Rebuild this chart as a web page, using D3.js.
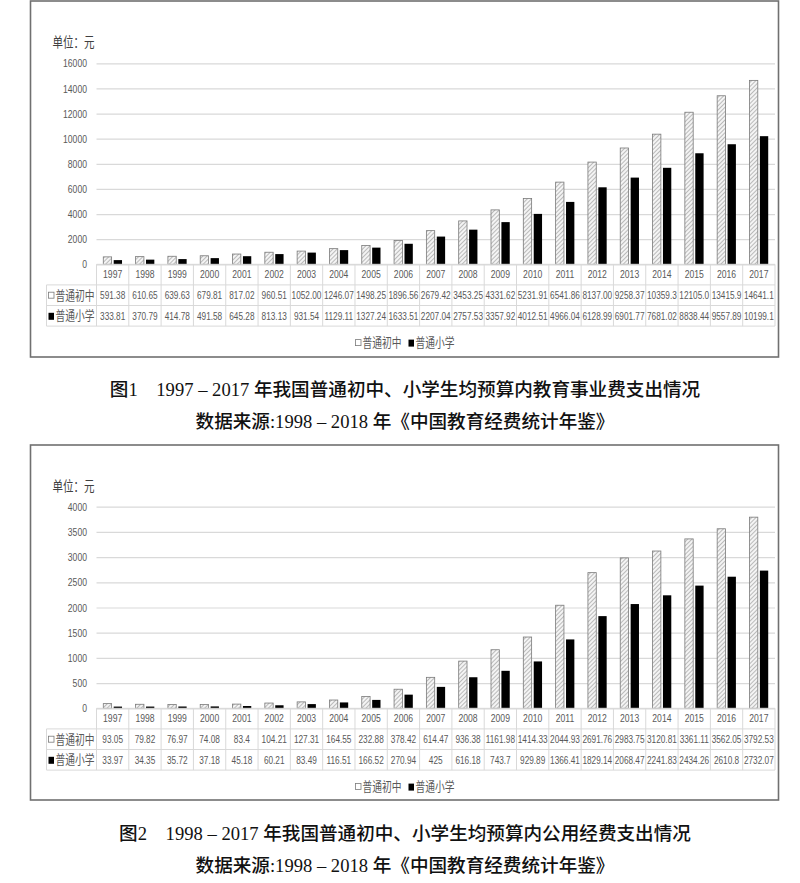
<!DOCTYPE html>
<html>
<head>
<meta charset="utf-8">
<script src="https://cdn.jsdelivr.net/npm/d3@7/dist/d3.min.js"></script>
<style>
  html, body { margin: 0; padding: 0; background: #fff; }
  svg { display: block; }
</style>
</head>
<body>
<svg id="root" width="800" height="883"></svg>
<script>
// ---------- data ----------
const years = ['1997','1998','1999','2000','2001','2002','2003','2004','2005','2006','2007',
               '2008','2009','2010','2011','2012','2013','2014','2015','2016','2017'];
const seriesNames = ['普通初中', '普通小学'];

const fig1Junior = [591.38, 610.65, 639.63, 679.81, 817.02, 960.51, 1052.00, 1246.07, 1498.25, 1896.56,
                    2679.42, 3453.25, 4331.62, 5231.91, 6541.86, 8137.00, 9258.37, 10359.3, 12105.0, 13415.9, 14641.1];
const fig1Primary = [333.81, 370.79, 414.78, 491.58, 645.28, 813.13, 931.54, 1129.11, 1327.24, 1633.51,
                     2207.04, 2757.53, 3357.92, 4012.51, 4966.04, 6128.99, 6901.77, 7681.02, 8838.44, 9557.89, 10199.1];
const fig1Ticks = [0, 2000, 4000, 6000, 8000, 10000, 12000, 14000, 16000];

const fig2Junior = [93.05, 79.82, 76.97, 74.08, 83.4, 104.21, 127.31, 164.55, 232.88, 378.42,
                    614.47, 936.38, 1161.98, 1414.33, 2044.93, 2691.76, 2983.75, 3120.81, 3361.11, 3562.05, 3792.53];
const fig2Primary = [33.97, 34.35, 35.72, 37.18, 45.18, 60.21, 83.49, 116.51, 166.52, 270.94,
                     425, 616.18, 743.7, 929.89, 1366.41, 1829.14, 2068.47, 2241.83, 2434.26, 2610.8, 2732.07];
const fig2Ticks = [0, 500, 1000, 1500, 2000, 2500, 3000, 3500, 4000];

const unitLabel = '单位：元';
const fig1Caption = '图1\u30001997 – 2017 年我国普通初中、小学生均预算内教育事业费支出情况';
const fig2Caption = '图2\u30001998 – 2017 年我国普通初中、小学生均预算内公用经费支出情况';
const sourceCaption = '数据来源:1998 – 2018 年《中国教育经费统计年鉴》';

// ---------- drawing ----------
const svg = d3.select('#root');
const SX = 0.75;               // horizontal compression of chart text
const TXT = '#595959';
const GRID = '#d9d9d9';
const FONT = '"Liberation Sans", "Noto Sans CJK SC", sans-serif';

const defs = svg.append('defs');
const pat = defs.append('pattern').attr('id', 'hatch')
  .attr('patternUnits', 'userSpaceOnUse').attr('width', 3).attr('height', 3)
  .attr('patternTransform', 'rotate(45)');
pat.append('rect').attr('width', 3).attr('height', 3).attr('fill', '#f4f4f4');
pat.append('line').attr('x1', 0).attr('y1', 0).attr('x2', 0).attr('y2', 3)
  .attr('stroke', '#8a8a8a').attr('stroke-width', 1.1);

function stext(g, x, y, str, size, anchor, color) {
  return g.append('text')
    .attr('transform', `translate(${x},${y}) scale(${SX},1)`)
    .attr('text-anchor', anchor || 'middle')
    .attr('dy', '0.35em')
    .attr('font-family', FONT)
    .attr('font-size', size)
    .attr('fill', color || TXT)
    .text(str);
}

function drawChart(cfg) {
  const g = svg.append('g');
  const x0 = 96.5, x1 = 775;
  const labelLeft = 46.5;
  const rowH = 20.6;

  // frame
  g.append('rect').attr('x', 30.5).attr('y', cfg.frameTop)
    .attr('width', 748).attr('height', cfg.frameH)
    .attr('fill', '#fff').attr('stroke', '#707070').attr('stroke-width', 1.6);

  const y = d3.scaleLinear().domain([0, cfg.max]).range([cfg.plotBottom, cfg.plotTop]);
  const xb = d3.scaleBand().domain(years).range([x0, x1]).paddingInner(0).paddingOuter(0);
  const bw = xb.bandwidth();
  const xs = d3.scaleBand().domain(seriesNames).range([bw * 0.21, bw * 0.79]).paddingInner(0.2);

  // grid + tick labels via axis
  const ax = g.append('g').attr('transform', `translate(${x0},0)`)
    .call(d3.axisLeft(y).tickValues(cfg.ticks).tickSize(-(x1 - x0)).tickPadding(12.7).tickFormat(d3.format('d')));
  ax.select('.domain').remove();
  ax.selectAll('.tick line').attr('stroke', GRID).attr('stroke-width', 1.2);
  ax.selectAll('.tick text')
    .attr('transform', `scale(${SX},1)`)
    .attr('font-family', FONT).attr('font-size', 11.5).attr('fill', TXT);

  // unit label
  stext(g, 52.5, cfg.plotTop - 21, unitLabel, 14, 'start', '#404040');

  // bars
  const series = [cfg.junior, cfg.primary];
  const fills = ['url(#hatch)', '#000'];
  const strokes = ['#7a7a7a', '#000'];
  series.forEach((vals, si) => {
    g.append('g').selectAll('rect').data(vals).join('rect')
      .attr('x', (d, i) => xb(years[i]) + xs(seriesNames[si]))
      .attr('width', xs.bandwidth())
      .attr('y', d => y(d))
      .attr('height', d => y(0) - y(d))
      .attr('fill', fills[si])
      .attr('stroke', strokes[si]).attr('stroke-width', si === 0 ? 0.8 : 0);
  });

  // data table
  const t0 = cfg.plotBottom;
  const tg = g.append('g');
  const line = (xa, ya, xc, yc) => tg.append('line').attr('x1', xa).attr('y1', ya).attr('x2', xc).attr('y2', yc)
    .attr('stroke', GRID).attr('stroke-width', 1);
  line(x0, t0, x1, t0);
  for (let r = 1; r <= 3; r++) line(labelLeft, t0 + r * rowH, x1, t0 + r * rowH);
  years.forEach(yr => line(xb(yr), t0, xb(yr), t0 + 3 * rowH));
  line(x1, t0, x1, t0 + 3 * rowH);
  line(labelLeft, t0 + rowH, labelLeft, t0 + 3 * rowH);

  years.forEach((yr, i) => {
    const cx = xb(yr) + bw / 2;
    stext(tg, cx, t0 + rowH * 0.5 - 0.5, yr, 11.5);
    stext(tg, cx, t0 + rowH * 1.5, cfg.fmt(cfg.junior[i]), 11);
    stext(tg, cx, t0 + rowH * 2.5, cfg.fmt(cfg.primary[i]), 11);
  });
  // row labels
  seriesNames.forEach((nm, si) => {
    const cy = t0 + rowH * (1.5 + si);
    tg.append('rect').attr('x', 48.5).attr('y', cy - 3).attr('width', 5.5).attr('height', si === 0 ? 6 : 7)
      .attr('fill', si === 0 ? '#fff' : '#000').attr('stroke', si === 0 ? '#7a7a7a' : 'none').attr('stroke-width', 0.8);
    stext(tg, 55.5, cy, nm, 13, 'start');
  });

  // legend
  const ly = t0 + 3 * rowH + 16.5;
  const lg = g.append('g');
  const legendX = [355.5, 408.5];
  seriesNames.forEach((nm, si) => {
    lg.append('rect').attr('x', legendX[si]).attr('y', ly - 3).attr('width', 5.5).attr('height', si === 0 ? 6 : 7)
      .attr('fill', si === 0 ? '#fff' : '#000').attr('stroke', si === 0 ? '#7a7a7a' : 'none').attr('stroke-width', 0.8);
    stext(lg, legendX[si] + 7, ly, nm, 13, 'start');
  });

  // captions
  const cg = g.append('g');
  [cfg.caption, sourceCaption].forEach((c, k) => {
    cg.append('text').attr('x', 405).attr('y', cfg.capY + k * 32.5)
      .attr('text-anchor', 'middle').attr('dy', '0.35em')
      .attr('font-family', '"Liberation Serif", "Noto Sans CJK SC", serif')
      .attr('font-size', 18.6).attr('font-weight', 500).attr('fill', '#111')
      .text(c);
  });
}

drawChart({
  frameTop: 1, frameH: 356,
  plotTop: 63.3, plotBottom: 264.3, max: 16000, ticks: fig1Ticks,
  junior: fig1Junior, primary: fig1Primary,
  fmt: v => v >= 10000 ? v.toFixed(1) : v.toFixed(2),
  caption: fig1Caption, capY: 389
});

drawChart({
  frameTop: 445, frameH: 355,
  plotTop: 506.7, plotBottom: 708.3, max: 4000, ticks: fig2Ticks,
  junior: fig2Junior, primary: fig2Primary,
  fmt: v => String(v),
  caption: fig2Caption, capY: 833
});
</script>
</body>
</html>
